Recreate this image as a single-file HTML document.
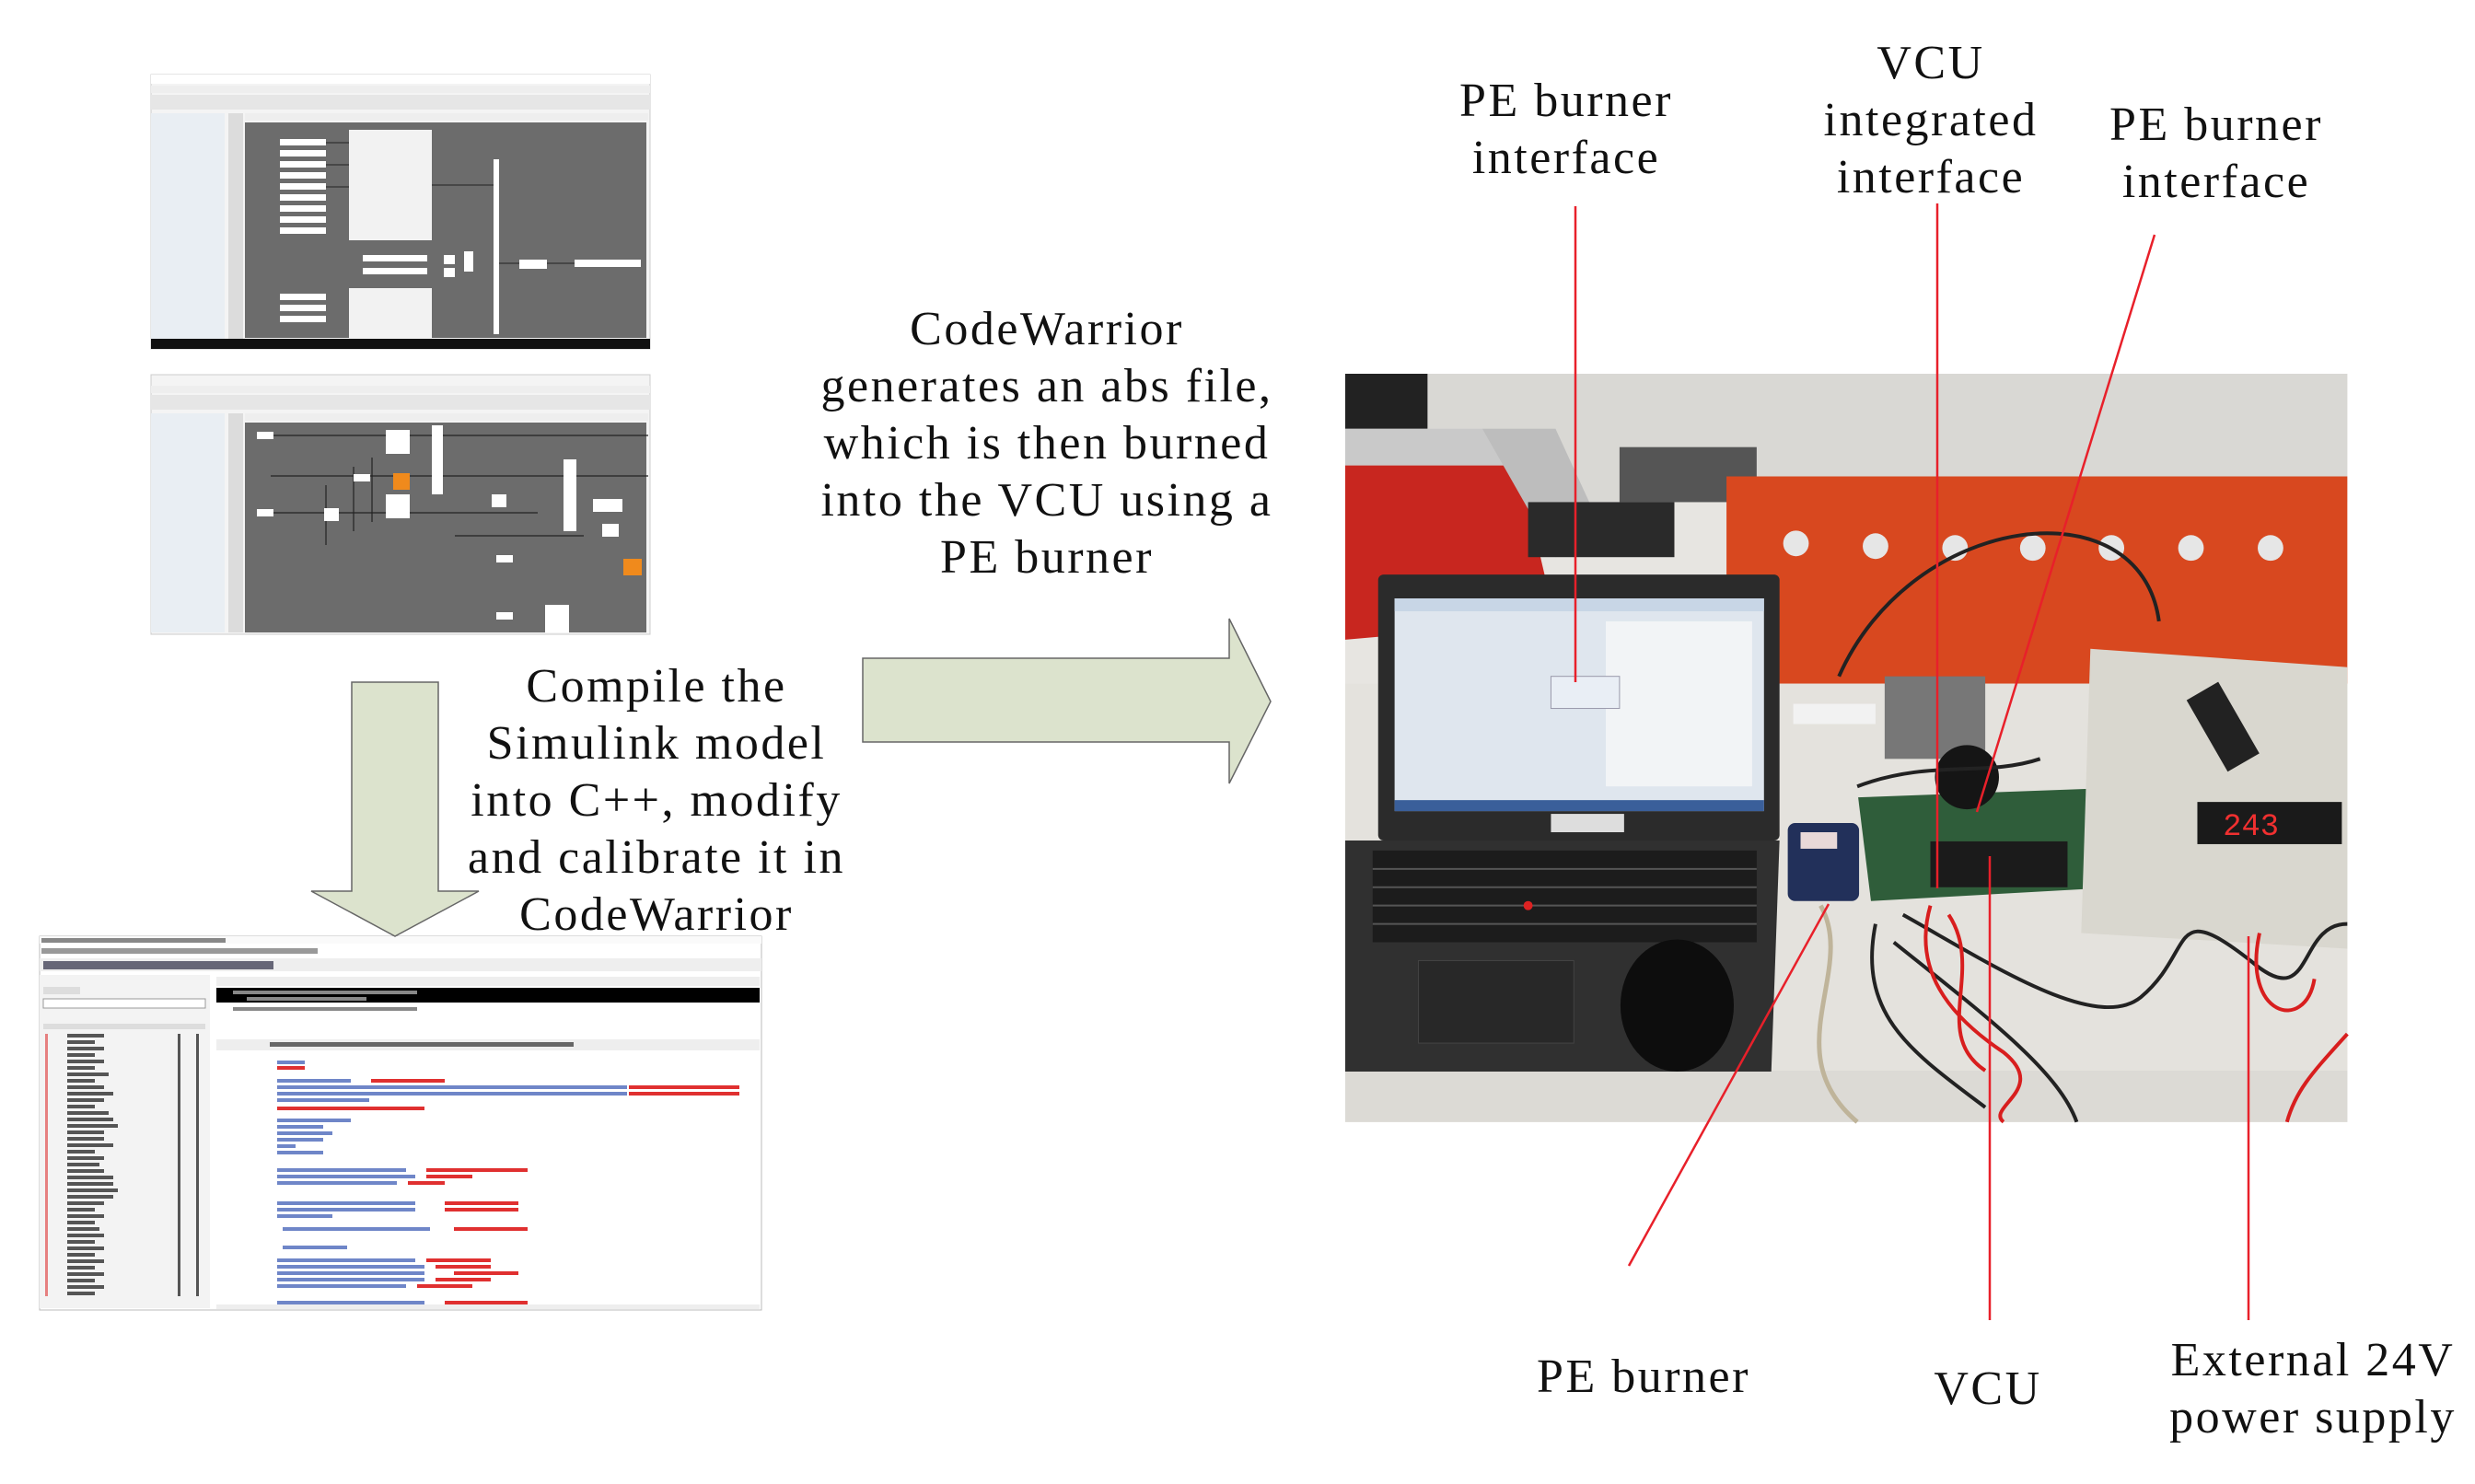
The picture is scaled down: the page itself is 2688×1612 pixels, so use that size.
<!DOCTYPE html>
<html><head><meta charset="utf-8">
<style>
html,body{margin:0;padding:0;background:#fff;}
body{width:2688px;height:1612px;position:relative;overflow:hidden;font-family:"Liberation Serif","DejaVu Serif",serif;color:#111;}
.t{position:absolute;text-align:center;font-size:52px;letter-spacing:2.5px;line-height:62px;white-space:nowrap;transform:translateX(-50%);}
svg{position:absolute;left:0;top:0;}
</style></head><body>
<svg width="2688" height="1612" viewBox="0 0 2688 1612">
<!-- Simulink screenshot 1 -->
<g transform="translate(164,81)">
 <rect x="0" y="0" width="542" height="298" fill="#f4f4f4" stroke="#ccc"/>
 <rect x="0" y="0" width="542" height="10" fill="#fff"/>
 <rect x="0" y="12" width="542" height="8" fill="#eee"/>
 <rect x="0" y="22" width="542" height="16" fill="#e6e6e6"/>
 <rect x="0" y="42" width="80" height="245" fill="#e9eef3"/>
 <rect x="84" y="42" width="16" height="245" fill="#dcdcdc"/>
 <rect x="102" y="42" width="438" height="8" fill="#eee"/>
 <rect x="102" y="52" width="436" height="234" fill="#6c6c6c"/>
 <g fill="#fff">
  <rect x="140" y="70" width="50" height="7"/><rect x="140" y="82" width="50" height="7"/><rect x="140" y="94" width="50" height="7"/><rect x="140" y="106" width="50" height="7"/><rect x="140" y="118" width="50" height="7"/><rect x="140" y="130" width="50" height="7"/><rect x="140" y="142" width="50" height="7"/><rect x="140" y="154" width="50" height="7"/><rect x="140" y="166" width="50" height="7"/>
  <rect x="215" y="60" width="90" height="120" fill="#f2f2f2"/>
  <rect x="372" y="92" width="6" height="190"/>
  <rect x="230" y="196" width="70" height="7"/><rect x="230" y="210" width="70" height="7"/>
  <rect x="318" y="196" width="12" height="10"/><rect x="318" y="210" width="12" height="10"/>
  <rect x="340" y="192" width="10" height="22"/>
  <rect x="400" y="201" width="30" height="10"/>
  <rect x="460" y="201" width="72" height="8"/>
  <rect x="140" y="238" width="50" height="7"/><rect x="140" y="250" width="50" height="7"/><rect x="140" y="262" width="50" height="7"/>
  <rect x="215" y="232" width="90" height="54" fill="#f2f2f2"/>
 </g>
 <path d="M190 74 H215 M190 98 H215 M190 122 H215 M305 120 H372 M378 205 H400 M430 205 H460" stroke="#222" stroke-width="1" fill="none"/>
 <rect x="0" y="287" width="542" height="11" fill="#111"/>
</g>
<!-- Simulink screenshot 2 -->
<g transform="translate(164,407)">
 <rect x="0" y="0" width="542" height="282" fill="#f4f4f4" stroke="#ccc"/>
 <rect x="0" y="12" width="542" height="8" fill="#eee"/>
 <rect x="0" y="22" width="542" height="16" fill="#e6e6e6"/>
 <rect x="0" y="42" width="80" height="238" fill="#e9eef3"/>
 <rect x="84" y="42" width="16" height="238" fill="#dcdcdc"/>
 <rect x="102" y="42" width="438" height="8" fill="#eee"/>
 <rect x="102" y="52" width="436" height="228" fill="#6c6c6c"/>
 <path d="M130 66 H540 M130 110 H540 M190 120 V185 M220 100 V170 M240 90 V160 M130 150 H420 M330 175 H470" stroke="#222" stroke-width="1.2" fill="none"/>
 <g fill="#fff">
  <rect x="115" y="62" width="18" height="8"/><rect x="115" y="146" width="18" height="8"/>
  <rect x="255" y="60" width="26" height="26"/><rect x="255" y="130" width="26" height="26"/>
  <rect x="305" y="55" width="12" height="75"/>
  <rect x="188" y="145" width="16" height="14"/>
  <rect x="370" y="130" width="16" height="14"/>
  <rect x="448" y="92" width="14" height="78"/>
  <rect x="480" y="135" width="32" height="14"/>
  <rect x="490" y="162" width="18" height="14"/>
  <rect x="220" y="108" width="18" height="8"/>
  <rect x="375" y="196" width="18" height="8"/>
  <rect x="428" y="250" width="26" height="30"/>
  <rect x="375" y="258" width="18" height="8"/>
 </g>
 <rect x="263" y="107" width="18" height="18" fill="#f08a1c"/>
 <rect x="513" y="200" width="20" height="18" fill="#f08a1c"/>
</g>
<!-- CodeWarrior screenshot -->
<g transform="translate(43,1017)">
 <rect x="0" y="0" width="784" height="406" fill="#fff" stroke="#bbb"/>
 <rect x="0" y="0" width="784" height="8" fill="#fafafa"/>
 <rect x="2" y="2" width="200" height="5" fill="#888"/>
 <rect x="2" y="13" width="300" height="6" fill="#999"/>
 <rect x="0" y="24" width="784" height="14" fill="#eee"/>
 <rect x="4" y="27" width="250" height="9" fill="#667"/>
 <rect x="0" y="42" width="185" height="362" fill="#f3f3f3"/>
 <rect x="4" y="55" width="40" height="8" fill="#ddd"/>
 <rect x="4" y="68" width="176" height="10" fill="#fff" stroke="#999"/>
 <rect x="4" y="95" width="176" height="6" fill="#ddd"/>
 <g fill="#555">
  <rect x="30" y="106" width="40" height="4"/><rect x="30" y="113" width="30" height="4"/><rect x="30" y="120" width="40" height="4"/><rect x="30" y="127" width="30" height="4"/><rect x="30" y="134" width="40" height="4"/><rect x="30" y="141" width="30" height="4"/><rect x="30" y="148" width="45" height="4"/><rect x="30" y="155" width="30" height="4"/><rect x="30" y="162" width="40" height="4"/><rect x="30" y="169" width="50" height="4"/><rect x="30" y="176" width="40" height="4"/><rect x="30" y="183" width="30" height="4"/><rect x="30" y="190" width="45" height="4"/><rect x="30" y="197" width="50" height="4"/><rect x="30" y="204" width="55" height="4"/><rect x="30" y="211" width="40" height="4"/><rect x="30" y="218" width="40" height="4"/><rect x="30" y="225" width="50" height="4"/><rect x="30" y="232" width="30" height="4"/><rect x="30" y="239" width="40" height="4"/><rect x="30" y="246" width="35" height="4"/><rect x="30" y="253" width="40" height="4"/><rect x="30" y="260" width="50" height="4"/><rect x="30" y="267" width="50" height="4"/><rect x="30" y="274" width="55" height="4"/><rect x="30" y="281" width="50" height="4"/><rect x="30" y="288" width="40" height="4"/><rect x="30" y="295" width="30" height="4"/><rect x="30" y="302" width="40" height="4"/><rect x="30" y="309" width="30" height="4"/><rect x="30" y="316" width="35" height="4"/><rect x="30" y="323" width="40" height="4"/><rect x="30" y="330" width="30" height="4"/><rect x="30" y="337" width="40" height="4"/><rect x="30" y="344" width="30" height="4"/><rect x="30" y="351" width="40" height="4"/><rect x="30" y="358" width="30" height="4"/><rect x="30" y="365" width="40" height="4"/><rect x="30" y="372" width="30" height="4"/><rect x="30" y="379" width="40" height="4"/><rect x="30" y="386" width="30" height="4"/>
  <rect x="150" y="106" width="3" height="285"/><rect x="170" y="106" width="3" height="285"/>
 </g>
 <rect x="6" y="106" width="3" height="285" fill="#d33" opacity=".6"/>
 <rect x="192" y="44" width="590" height="10" fill="#eee"/>
 <rect x="192" y="56" width="590" height="16" fill="#000"/>
 <rect x="210" y="59" width="200" height="4" fill="#888"/>
 <rect x="225" y="66" width="130" height="4" fill="#888"/>
 <rect x="210" y="77" width="200" height="4" fill="#888"/>
 <rect x="192" y="112" width="590" height="12" fill="#eee"/>
 <rect x="250" y="115" width="330" height="5" fill="#666"/>
 <g fill="#6f86c8">
  <rect x="258" y="135" width="30" height="4"/>
  <rect x="258" y="155" width="80" height="4"/><rect x="258" y="162" width="380" height="4"/><rect x="258" y="169" width="380" height="4"/><rect x="258" y="176" width="100" height="4"/>
  <rect x="258" y="198" width="80" height="4"/><rect x="258" y="205" width="50" height="4"/><rect x="258" y="212" width="60" height="4"/><rect x="258" y="219" width="50" height="4"/><rect x="258" y="226" width="20" height="4"/><rect x="258" y="233" width="50" height="4"/>
  <rect x="258" y="252" width="140" height="4"/><rect x="258" y="259" width="150" height="4"/><rect x="258" y="266" width="130" height="4"/>
  <rect x="258" y="288" width="150" height="4"/><rect x="258" y="295" width="150" height="4"/><rect x="258" y="302" width="60" height="4"/>
  <rect x="264" y="316" width="160" height="4"/><rect x="264" y="336" width="70" height="4"/>
  <rect x="258" y="350" width="150" height="4"/><rect x="258" y="357" width="160" height="4"/><rect x="258" y="364" width="160" height="4"/><rect x="258" y="371" width="160" height="4"/><rect x="258" y="378" width="140" height="4"/>
  <rect x="258" y="396" width="160" height="4"/>
 </g>
 <g fill="#e03030">
  <rect x="258" y="141" width="30" height="4"/><rect x="360" y="155" width="80" height="4"/><rect x="640" y="162" width="120" height="4"/><rect x="640" y="169" width="120" height="4"/><rect x="258" y="185" width="160" height="4"/>
  <rect x="420" y="252" width="110" height="4"/><rect x="420" y="259" width="50" height="4"/><rect x="400" y="266" width="40" height="4"/>
  <rect x="440" y="288" width="80" height="4"/><rect x="440" y="295" width="80" height="4"/><rect x="450" y="316" width="80" height="4"/>
  <rect x="420" y="350" width="70" height="4"/><rect x="430" y="357" width="60" height="4"/><rect x="450" y="364" width="70" height="4"/><rect x="430" y="371" width="60" height="4"/><rect x="410" y="378" width="60" height="4"/><rect x="440" y="396" width="90" height="4"/>
 </g>
 <rect x="192" y="400" width="590" height="5" fill="#eee"/>
</g>
<!-- Down arrow -->
<polygon points="382,741 476,741 476,968 520,968 429,1017 338,968 382,968" fill="#dce3cd" stroke="#666" stroke-width="1.5"/>
<!-- Right arrow -->
<polygon points="937,715 1335,715 1335,672 1380,762 1335,851 1335,806 937,806" fill="#dce3cd" stroke="#666" stroke-width="1.5"/>
<!-- Photo -->
<g transform="translate(1461,406) scale(0.993,0.996)">
 <rect x="0" y="0" width="1096" height="816" fill="#e7e5e1"/>
 <rect x="0" y="0" width="1096" height="140" fill="#d9d8d4"/>
 <rect x="0" y="0" width="90" height="60" fill="#222"/>
 <rect x="0" y="60" width="230" height="40" fill="#c9c9c9"/>
 <polygon points="0,100 190,100 230,270 0,290" fill="#c8261f"/>
 <polygon points="150,60 230,60 290,190 230,200" fill="#bdbdbd"/>
 <rect x="200" y="140" width="160" height="60" fill="#2a2a2a"/>
 <rect x="300" y="80" width="150" height="60" fill="#555"/>
 <path d="M417 112 L1096 112 L1096 338 L417 338 Z" fill="#d8481f"/>
 <g fill="#e6e6e6"><circle cx="493" cy="185" r="14"/><circle cx="580" cy="188" r="14"/><circle cx="667" cy="190" r="14"/><circle cx="752" cy="190" r="14"/><circle cx="838" cy="190" r="14"/><circle cx="925" cy="190" r="14"/><circle cx="1012" cy="190" r="14"/></g>
 <rect x="0" y="338" width="1096" height="478" fill="#e4e2dd"/>
 <rect x="0" y="760" width="1096" height="56" fill="#dcdad5"/>
 <rect x="36" y="219" width="439" height="290" rx="6" fill="#2b2b2b"/>
 <rect x="54" y="245" width="404" height="232" fill="#dfe6ee"/>
 <rect x="54" y="245" width="404" height="14" fill="#c8d6e6"/>
 <rect x="285" y="270" width="160" height="180" fill="#f2f4f6"/>
 <rect x="225" y="330" width="75" height="35" fill="#e9eef5" stroke="#99a"/>
 <rect x="54" y="465" width="404" height="12" fill="#3a5f9a"/>
 <rect x="225" y="480" width="80" height="20" fill="#ddd"/>
 <polygon points="0,509 475,509 466,761 0,761" fill="#303030"/>
 <rect x="30" y="520" width="420" height="100" fill="#1c1c1c"/>
 <g stroke="#555" stroke-width="2"><path d="M30 540 H450 M30 560 H450 M30 580 H450 M30 600 H450"/></g>
 <rect x="80" y="640" width="170" height="90" fill="#282828" stroke="#444"/>
 <circle cx="200" cy="580" r="5" fill="#d22"/>
 <ellipse cx="363" cy="689" rx="62" ry="72" fill="#0d0d0d"/>
 <rect x="484" y="490" width="78" height="85" rx="8" fill="#22305a"/>
 <rect x="498" y="500" width="40" height="18" fill="#e8d8d8"/>
 <polygon points="561,462 830,452 846,560 575,575" fill="#2f5d3a"/>
 <rect x="640" y="510" width="150" height="50" fill="#1b1b1b"/>
 <polygon points="815,300 1096,320 1096,627 805,610" fill="#d9d7cf"/>
 <rect x="932" y="467" width="158" height="46" fill="#1a1a1a"/>
 <text x="960" y="503" font-family="Liberation Mono,monospace" font-size="34" fill="#f03030">243</text>
 <rect x="940" y="340" width="40" height="90" fill="#222" transform="rotate(-30 960 385)"/>
 <rect x="590" y="330" width="110" height="90" fill="#777"/>
 <circle cx="680" cy="440" r="35" fill="#151515"/>
 <rect x="490" y="360" width="90" height="22" fill="#f2f2f2"/>
 <path d="M540 330 C620 150 870 120 890 270 M560 450 C640 420 700 440 760 420 M580 600 C560 700 620 740 700 800 M600 620 C700 700 780 760 800 816 M610 590 C700 640 820 720 870 680 C930 630 900 570 990 640 C1060 700 1040 600 1096 600" stroke="#222" stroke-width="4" fill="none"/>
 <path d="M640 580 C620 650 660 700 720 740 C770 780 700 800 720 816 M660 590 C700 650 640 720 700 760 M1000 610 C980 700 1050 720 1060 660 M1096 720 C1060 760 1040 780 1030 816" stroke="#d81e1e" stroke-width="4" fill="none"/>
 <path d="M520 580 C560 650 470 740 560 816" stroke="#bfb49a" stroke-width="5" fill="none"/>
</g>
<!-- Red leader lines -->
<g stroke="#e8202a" stroke-width="2.5" fill="none">
 <line x1="1711" y1="224" x2="1711" y2="741"/>
 <line x1="2104" y1="221" x2="2104" y2="965"/>
 <line x1="2340" y1="255" x2="2147" y2="882"/>
 <line x1="1769" y1="1375" x2="1986" y2="982"/>
 <line x1="2161" y1="930" x2="2161" y2="1434"/>
 <line x1="2442" y1="1017" x2="2442" y2="1434"/>
</g>
</svg>
<div class="t" style="left:1137px;top:327px;">CodeWarrior<br>generates an abs file,<br>which is then burned<br>into the VCU using a<br>PE burner</div>
<div class="t" style="left:713px;top:715px;">Compile the<br>Simulink model<br>into C++, modify<br>and calibrate it in<br>CodeWarrior</div>
<div class="t" style="left:1701px;top:79px;">PE burner<br>interface</div>
<div class="t" style="left:2097px;top:38px;">VCU<br>integrated<br>interface</div>
<div class="t" style="left:2407px;top:105px;">PE burner<br>interface</div>
<div class="t" style="left:1785px;top:1465px;">PE burner</div>
<div class="t" style="left:2159px;top:1478px;">VCU</div>
<div class="t" style="left:2512px;top:1447px;">External 24V<br>power supply</div>
</body></html>
